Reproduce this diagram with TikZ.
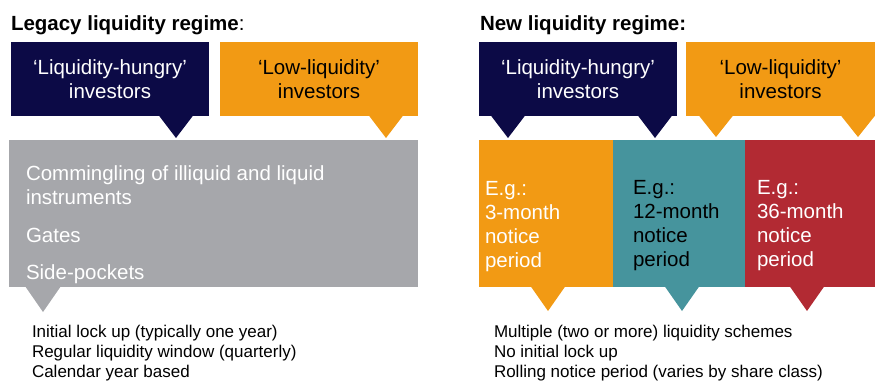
\documentclass[tikz,border=0pt]{standalone}
\usepackage{fontspec}
\setmainfont{Liberation Sans}
\definecolor{navy}{RGB}{12,10,70}
\definecolor{amber}{RGB}{242,154,20}
\definecolor{teal}{RGB}{70,148,157}
\definecolor{wine}{RGB}{178,42,51}
\definecolor{slate}{RGB}{166,167,171}
% downward pointer under a box: colour, tip x, base y, tip y
\newcommand\callout[4]{\fill[#1] ({#2-17.5},#3) -- (#2,#4) -- ({#2+17.5},#3) -- cycle;}
\begin{document}
\begin{tikzpicture}[x=1pt,y=-1pt,
  every node/.style={inner sep=0pt,outer sep=0pt},
  title/.style={anchor=base west,font=\fontsize{20.5}{24}\selectfont\bfseries},
  investor/.style={anchor=north west,minimum width=#1,minimum height=74pt,align=center,
    font=\fontsize{20.5}{24}\selectfont},
  block/.style={anchor=north west,minimum width=#1,minimum height=147pt},
  blocktext/.style={anchor=base west,align=left,font=\fontsize{20.5}{24}\selectfont},
  note/.style={anchor=base west,align=left,font=\fontsize{17}{20}\selectfont}]
\useasboundingbox (0,0) rectangle (875,380);

% ---- legacy regime ----
% multi-line text nodes are placed by the baseline of their last line
\node[title] (legacy) at (11,30) {Legacy liquidity regime\mdseries:};
\node[investor=198pt,fill=navy,text=white] (lhungry) at (11,42)
  {`Liquidity-hungry'\\investors};
\node[investor=198pt,fill=amber,text=black] (llow) at (220,42)
  {`Low-liquidity'\\investors};
\callout{navy}{176}{115}{138}
\callout{amber}{386}{115}{138}
\node[block=409pt,fill=slate] (lbox) at (9,140) {};
\node[blocktext,text=white] (ltext) at (26,279)
  {Commingling of illiquid and liquid\\instruments\\[14pt]Gates\\[13pt]Side-pockets};
\fill[slate] (25,286) -- (43,312) -- (61,286) -- cycle;
\node[note] (lnote) at (32,377)
  {Initial lock up (typically one year)\\Regular liquidity window (quarterly)\\Calendar year based};

% ---- new regime ----
\node[title] (new) at (480,30) {New liquidity regime:};
\node[investor=198pt,fill=navy,text=white] (nhungry) at (479,42)
  {`Liquidity-hungry'\\investors};
\node[investor=189pt,fill=amber,text=black] (nlow) at (686,42)
  {`Low-liquidity'\\investors};
\callout{navy}{508}{115}{138}
\callout{navy}{655}{115}{138}
\callout{amber}{716}{115}{137}
\callout{amber}{858}{115}{137}

\node[block=134pt,fill=amber] (s3) at (479,140) {};
\node[block=132pt,fill=teal] (s12) at (613,140) {};
\node[block=130pt,fill=wine] (s36) at (745,140) {};
\node[blocktext,text=white] (t3) at (485,267) {E.g.:\\3-month\\notice\\period};
\node[blocktext,text=black] (t12) at (633,266) {E.g.:\\12-month\\notice\\period};
\node[blocktext,text=white] (t36) at (757,266) {E.g.:\\36-month\\notice\\period};
\callout{amber}{548}{286}{311}
\callout{teal}{682}{286}{311}
\callout{wine}{807}{286}{311}
\node[note] (nnote) at (494,377)
  {Multiple (two or more) liquidity schemes\\No initial lock up\\Rolling notice period (varies by share class)};
\end{tikzpicture}
\end{document}
